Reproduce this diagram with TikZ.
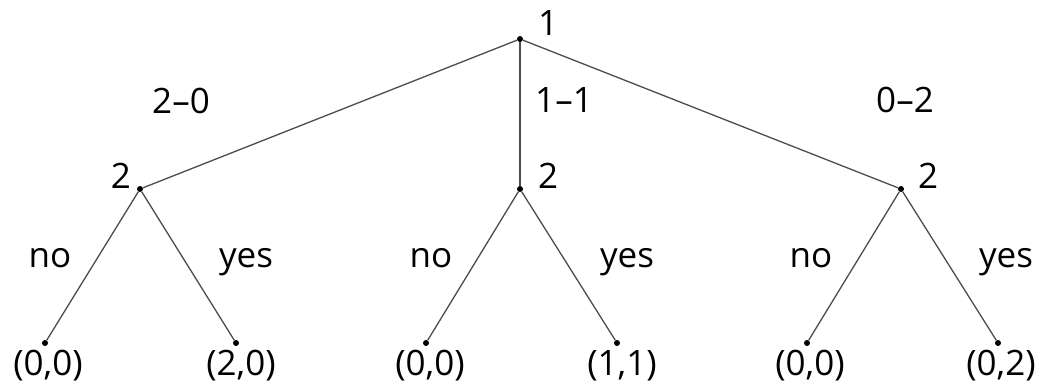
\documentclass[tikz,border=0pt]{standalone}
\usepackage{fontspec}
\setmainfont{Open Sans}
\begin{document}
\begin{tikzpicture}[x=1pt,y=-1pt,
  dot/.style={circle,fill=black,inner sep=0pt,minimum size=6pt},
  lbl/.style={font=\fontsize{35}{40}\selectfont,inner sep=0pt,anchor=base},
  edge/.style={draw=black!70,line width=1.3pt}]
\useasboundingbox (0,0) rectangle (1047,385);
% nodes
\node[dot] (r) at (520,39) {};
\node[dot] (a) at (140,189) {};
\node[dot] (b) at (520,189) {};
\node[dot] (c) at (901,189) {};
\node[dot] (a1) at (45,343) {};
\node[dot] (a2) at (236,343) {};
\node[dot] (b1) at (426,343) {};
\node[dot] (b2) at (617,343) {};
\node[dot] (c1) at (807,343) {};
\node[dot] (c2) at (998,343) {};
% edges
\draw[edge] (r) -- (a);
\draw[edge] (r) -- (b);
\draw[edge] (r) -- (c);
\draw[edge] (a) -- (a1);
\draw[edge] (a) -- (a2);
\draw[edge] (b) -- (b1);
\draw[edge] (b) -- (b2);
\draw[edge] (c) -- (c1);
\draw[edge] (c) -- (c2);
% player labels
\node[lbl] (lr) at (548,36) {1};
\node[lbl] (la) at (121,189) {2};
\node[lbl] (lb) at (548,189) {2};
\node[lbl] (lc) at (928,189) {2};
% edge labels
\node[lbl] (e1) at (181,114) {2–0};
\node[lbl] (e2) at (564,113) {1–1};
\node[lbl] (e3) at (905,113) {0–2};
\node[lbl] (n1) at (50,267) {no};
\node[lbl] (y1) at (246,267) {yes};
\node[lbl] (n2) at (431,267) {no};
\node[lbl] (y2) at (627,267) {yes};
\node[lbl] (n3) at (811,267) {no};
\node[lbl] (y3) at (1006,267) {yes};
% payoffs
\node[lbl] (p1) at (48,375) {(0,0)};
\node[lbl] (p2) at (241,375) {(2,0)};
\node[lbl] (p3) at (430,375) {(0,0)};
\node[lbl] (p4) at (622,375) {(1,1)};
\node[lbl] (p5) at (810,375) {(0,0)};
\node[lbl] (p6) at (1001,375) {(0,2)};
\end{tikzpicture}
\end{document}
